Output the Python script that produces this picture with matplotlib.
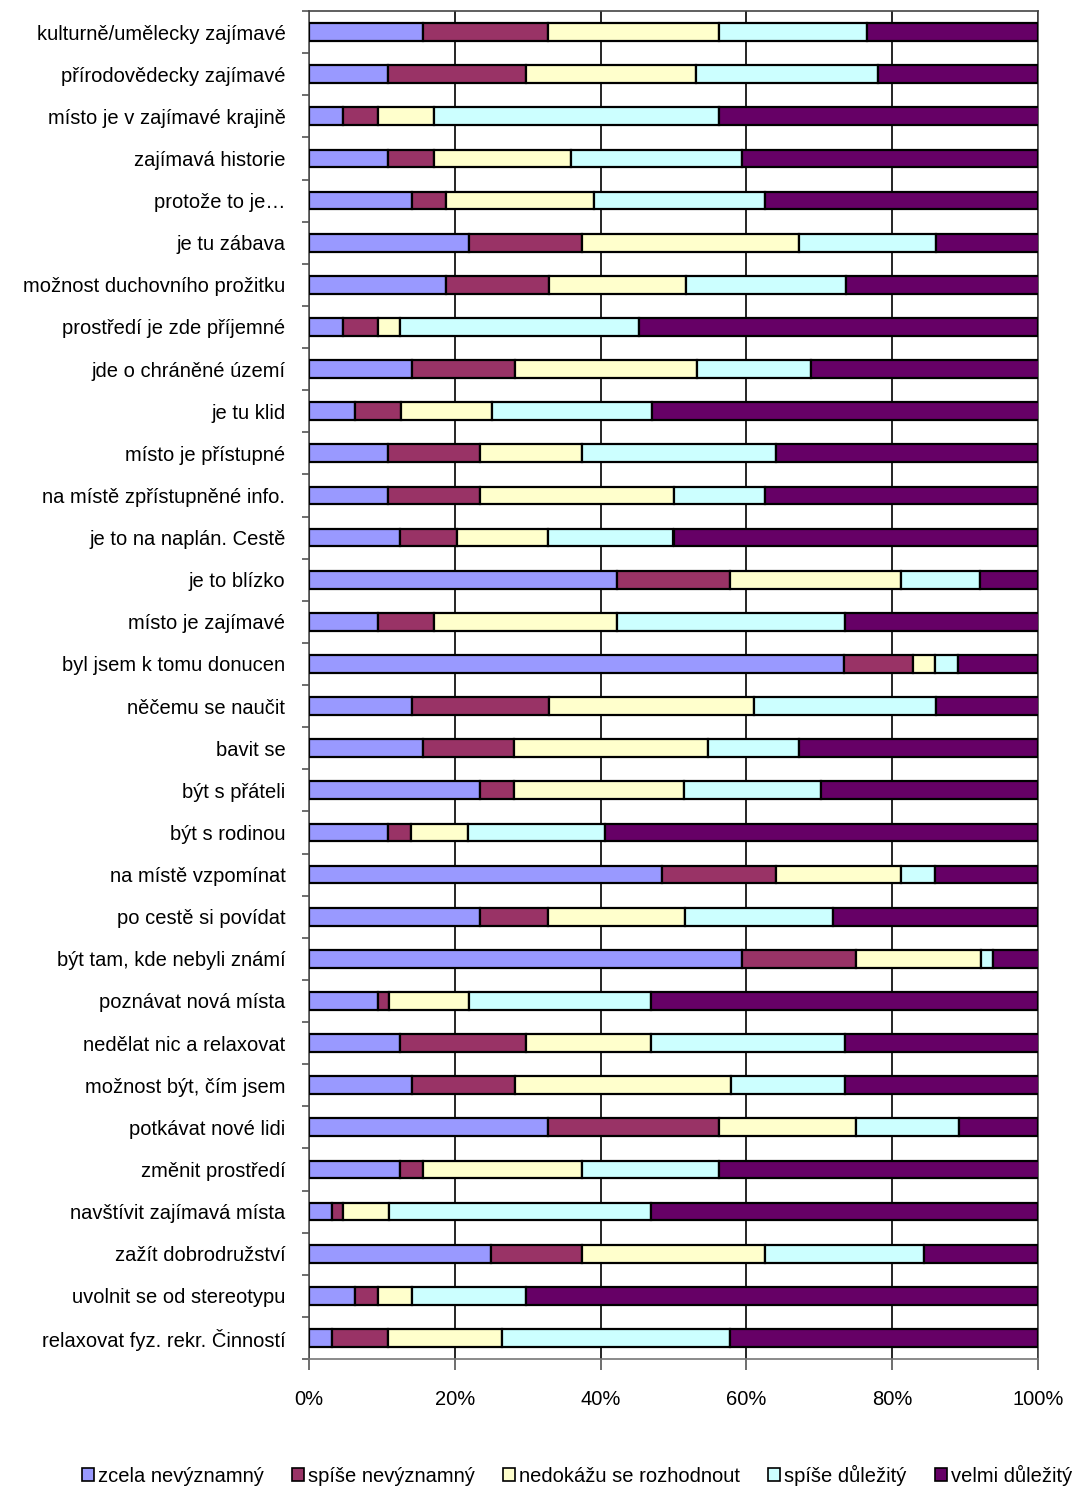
import matplotlib
matplotlib.use("Agg")
import matplotlib.pyplot as plt
from matplotlib.patches import Patch
from matplotlib.ticker import FixedLocator, PercentFormatter
import numpy as np

plt.rcParams['font.family'] = ['Liberation Sans', 'DejaVu Sans']

categories = [
    "kulturně/umělecky zajímavé", "přírodovědecky zajímavé", "místo je v zajímavé krajině",
    "zajímavá historie", "protože to je…", "je tu zábava", "možnost duchovního prožitku",
    "prostředí je zde příjemné", "jde o chráněné území", "je tu klid", "místo je přístupné",
    "na místě zpřístupněné info.", "je to na naplán. Cestě", "je to blízko", "místo je zajímavé",
    "byl jsem k tomu donucen", "něčemu se naučit", "bavit se", "být s přáteli", "být s rodinou",
    "na místě vzpomínat", "po cestě si povídat", "být tam, kde nebyli známí", "poznávat nová místa",
    "nedělat nic a relaxovat", "možnost být, čím jsem", "potkávat nové lidi", "změnit prostředí",
    "navštívit zajímavá místa", "zažít dobrodružství", "uvolnit se od stereotypu",
    "relaxovat fyz. rekr. Činností",
]

series_names = ["zcela nevýznamný", "spíše nevýznamný", "nedokážu se rozhodnout",
                "spíše důležitý", "velmi důležitý"]

zcela_nevyznamny = [15.6, 10.9, 4.7, 10.9, 14.1, 21.9, 18.8, 4.7, 14.1, 6.3, 10.9, 10.9, 12.5, 42.2,
                    9.4, 73.4, 14.1, 15.6, 23.4, 10.9, 48.4, 23.4, 59.4, 9.4, 12.5, 14.1, 32.8, 12.5,
                    3.1, 25.0, 6.3, 3.1]
spise_nevyznamny = [17.2, 18.8, 4.7, 6.3, 4.7, 15.6, 14.1, 4.7, 14.1, 6.3, 12.5, 12.5, 7.8, 15.6,
                    7.8, 9.4, 18.8, 12.5, 4.7, 3.1, 15.6, 9.4, 15.6, 1.6, 17.2, 14.1, 23.4, 3.1,
                    1.6, 12.5, 3.1, 7.8]
nedokazu = [23.4, 23.4, 7.8, 18.8, 20.3, 29.7, 18.8, 3.1, 25.0, 12.5, 14.1, 26.6, 12.5, 23.4,
            25.0, 3.1, 28.1, 26.6, 23.4, 7.8, 17.2, 18.8, 17.2, 10.9, 17.2, 29.7, 18.8, 21.9,
            6.3, 25.0, 4.7, 15.6]
spise_dulezity = [20.3, 25.0, 39.1, 23.4, 23.4, 18.8, 21.9, 32.8, 15.6, 21.9, 26.6, 12.5, 17.2, 10.9,
                  31.3, 3.1, 25.0, 12.5, 18.8, 18.8, 4.7, 20.3, 1.6, 25.0, 26.6, 15.6, 14.1, 18.8,
                  35.9, 21.9, 15.6, 31.3]
velmi_dulezity = [23.5, 21.9, 43.8, 40.6, 37.5, 14.1, 26.6, 54.7, 31.3, 53.1, 35.9, 37.5, 50.0, 7.9,
                  26.6, 11.0, 14.1, 32.8, 29.7, 59.4, 14.1, 28.1, 6.3, 53.1, 26.6, 26.6, 10.9, 43.8,
                  53.1, 15.6, 70.3, 42.2]

colors = ["#9999FF", "#993366", "#FFFFCC", "#CCFFFF", "#660066"]
x_ticks = [0, 20, 40, 60, 80, 100]

fig = plt.figure(figsize=(10.78, 14.86), dpi=100)
ax = fig.add_axes([309/1078, 1 - 1359/1486, (1038-309)/1078, (1359-11)/1486])

y = np.arange(len(categories))
left = np.zeros(len(categories))
for name, vals, c in zip(series_names,
                         [zcela_nevyznamny, spise_nevyznamny, nedokazu, spise_dulezity, velmi_dulezity],
                         colors):
    vals = np.array(vals)
    ax.barh(y, vals, left=left, height=0.42, color=c, edgecolor="black", linewidth=1.6,
            label=name, zorder=3)
    left += vals

ax.set_xlim(0, 100)
ax.set_ylim(len(categories) - 0.5, -0.5)
ax.set_yticks(y)
ax.set_yticklabels(categories, fontsize=14.5)
ax.yaxis.set_minor_locator(FixedLocator(np.arange(-0.5, len(categories), 1.0)))
ax.tick_params(axis='y', which='major', length=0, pad=17)
ax.tick_params(axis='y', which='minor', length=5, width=1.2, color="#555555", direction='out')

ax.set_xticks(x_ticks)
ax.xaxis.set_major_formatter(PercentFormatter(decimals=0))
ax.tick_params(axis='x', which='major', length=8, width=1.2, color="#555555", pad=14,
               labelsize=14.5)

ax.grid(axis='x', color="black", linewidth=1.2, zorder=0)
for s in ax.spines.values():
    s.set_color("#444444")
    s.set_linewidth(1.2)
ax.spines['bottom'].set_color("#777777")
ax.spines['left'].set_color("#555555")

handles = [Patch(facecolor=c, edgecolor="black", linewidth=1.2, label=n)
           for c, n in zip(colors, series_names)]
fig.legend(handles=handles, loc='center', bbox_to_anchor=(577/1078, 1 - 1475/1486),
           ncol=5, frameon=False, fontsize=14.5, handlelength=0.6, handleheight=0.6,
           handletextpad=0.2, columnspacing=1.4, borderaxespad=0)

fig.savefig("out.png", dpi=100)
